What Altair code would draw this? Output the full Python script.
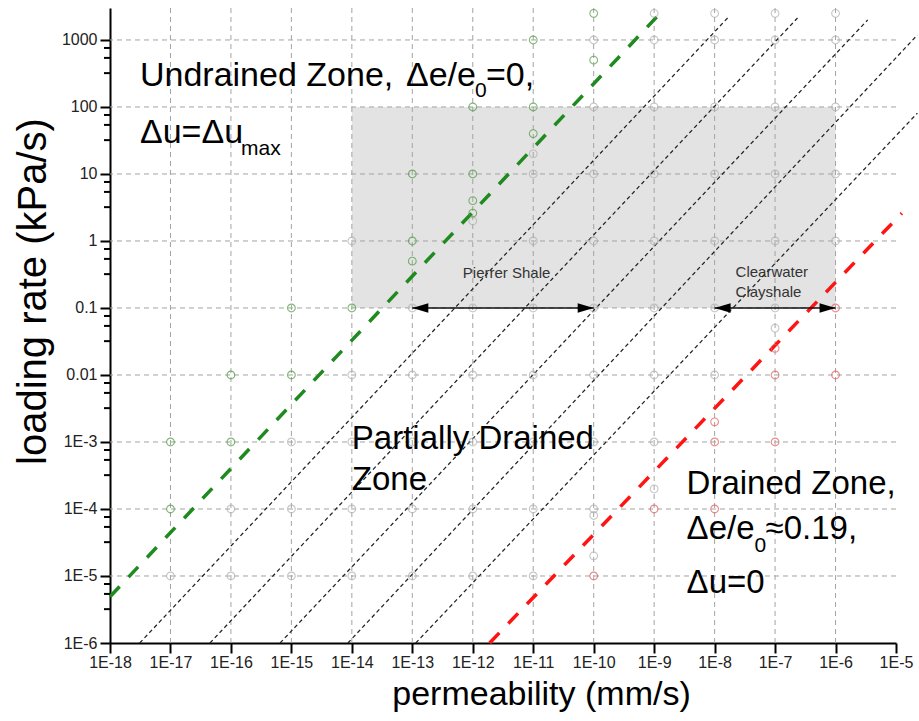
import altair as alt
import pandas as pd

FONT = "Liberation Sans"

# ---- axes -------------------------------------------------------------
x_ticks = [1e-18, 1e-17, 1e-16, 1e-15, 1e-14, 1e-13, 1e-12,
           1e-11, 1e-10, 1e-9, 1e-8, 1e-7, 1e-6, 1e-5]
x_tick_labels = ["1E-18", "1E-17", "1E-16", "1E-15", "1E-14", "1E-13", "1E-12",
                 "1E-11", "1E-10", "1E-9", "1E-8", "1E-7", "1E-6", "1E-5"]
y_ticks = [1e-6, 1e-5, 1e-4, 1e-3, 0.01, 0.1, 1, 10, 100, 1000]
y_tick_labels = ["1E-6", "1E-5", "1E-4", "1E-3", "0.01", "0.1", "1", "10", "100", "1000"]
y_minor_steps = [3.2, 5.4, 7.6]
x_grid = x_ticks[1:-1]
y_grid = y_ticks[1:]

X_DOMAIN = [1e-18, 1e-5]
Y_DOMAIN = [1e-6, 3000]

# ---- tested loading rates (permeability -> loading rates) --------------
gray_points = {
    1e-17: [1e-5],
    1e-16: [1e-4, 1e-5],
    1e-15: [1e-3, 1e-4, 1e-5],
    1e-14: [1, 0.01, 1e-3, 1e-4, 1e-5],
    1e-13: [0.1, 0.01, 1e-3, 1e-4, 1e-5],
    1e-12: [2, 0.1, 0.01, 1e-3, 1e-4, 1e-5],
    1e-11: [20, 10, 1, 0.1, 0.01, 1e-3, 1e-4, 1e-5],
    1e-10: [1000, 100, 10, 1, 0.1, 0.01, 1e-3, 1e-4, 8e-5, 2e-5],
    1e-9: [2500, 1000, 100, 10, 1, 0.1, 0.01, 1e-3, 2e-4],
    1e-8: [2500, 1000, 100, 10, 1, 0.1, 0.01],
    1e-7: [2500, 1000, 100, 10, 1, 0.1, 0.05],
    1e-6: [2500, 1000, 100, 10, 1],
}
undrained_points = {
    1e-17: [1e-3, 1e-4],
    1e-16: [0.01, 1e-3],
    1e-15: [0.1, 0.01],
    1e-14: [0.1],
    1e-13: [10, 1, 0.5],
    1e-12: [100, 10, 4, 2.6],
    1e-11: [1000, 100, 40],
    1e-10: [2500, 500],
}
drained_points = {
    1e-10: [1e-5],
    1e-9: [1e-4],
    1e-8: [2e-3, 1e-3, 1e-4],
    1e-7: [0.025, 0.01, 1e-3],
    1e-6: [0.1, 0.01],
}

# ---- boundary and guide lines (end points) ----------------------------
guide_lines = {
    "g1": ([3.1e-18, 1.64e-8], [1e-6, 2130]),
    "g2": ([4.5e-17, 2.35e-7], [1e-6, 2130]),
    "g3": ([6.5e-16, 3.4e-6], [1e-6, 1990]),
    "g4": ([8.6e-15, 2.26e-5], [1e-6, 1190]),
    "g5": ([1.14e-13, 2.26e-5], [1e-6, 81]),
}
undrained_line = ([1e-18, 1.1e-9], [4.9e-6, 2200])
drained_line = ([1.9e-12, 1.25e-5], [1e-6, 2.6])

# ---- shaded range and material arrows --------------------------------
shade_x = [1e-14, 1e-6]
shade_y = [0.1, 100]
arrow_names = ["Pierrer Shale", "Clearwater Clayshale"]
arrow_from = [1e-13, 1e-8]
arrow_to = [1e-10, 1e-6]
arrow_y = [0.1, 0.1]


def label_expr(labels, first_exp):
    arr = "[" + ",".join("'%s'" % s for s in labels) + "]"
    return "%s[round(log(datum.value)/LN10) - (%d)]" % (arr, first_exp)


x_axis = alt.Axis(
    values=x_ticks, labelExpr=label_expr(x_tick_labels, -18),
    title="permeability (mm/s)", grid=False,
    labelFont=FONT, labelFontSize=16, labelColor="#222", labelPadding=1,
    labelFlush=False, labelOverlap=False,
    tickSize=10, tickWidth=2, tickColor="#000",
    domainWidth=2, domainColor="#000",
    titleFont=FONT, titleFontSize=34, titleFontWeight="normal", titleColor="#000",
    titleX=431, titleY=61, titleBaseline="alphabetic", titleAlign="center",
)
y_axis = alt.Axis(
    values=y_ticks, labelExpr=label_expr(y_tick_labels, -6),
    title="loading rate (kPa/s)", grid=False,
    labelFont=FONT, labelFontSize=16, labelColor="#222", labelPadding=3,
    labelFlush=False, labelOverlap=False,
    tickSize=10, tickWidth=2, tickColor="#000",
    domainWidth=2, domainColor="#000",
    titleFont=FONT, titleFontSize=40, titleFontWeight="normal", titleColor="#000",
    titleX=-77, titleY=283, titleAngle=270, titleBaseline="middle", titleAlign="center",
)


def X(field):
    return alt.X(field, type="quantitative",
                 scale=alt.Scale(type="log", domain=X_DOMAIN, nice=False), axis=x_axis)


def Y(field):
    return alt.Y(field, type="quantitative",
                 scale=alt.Scale(type="log", domain=Y_DOMAIN, nice=False), axis=y_axis)


def points_frame(groups, kind):
    rows = [{"k": k, "rate": r, "kind": kind} for k, rates in groups.items() for r in rates]
    return pd.DataFrame(rows)


def line_frame(lines):
    rows = []
    for name, (xs, ys) in lines.items():
        for xv, yv in zip(xs, ys):
            rows.append({"k": xv, "rate": yv, "line": name})
    return pd.DataFrame(rows)


# shaded rectangle
shade = alt.Chart(pd.DataFrame({"x1": [shade_x[0]], "x2": [shade_x[1]],
                                "y1": [shade_y[0]], "y2": [shade_y[1]]})).mark_rect(
    color="#e3e3e3").encode(x=X("x1"), x2="x2", y=Y("y1"), y2="y2")

# dashed grid
grid_v = alt.Chart(pd.DataFrame({"g": x_grid})).mark_rule(
    color="#a3a3a3", strokeWidth=1, strokeDash=[5, 4]).encode(x=X("g"))
grid_h = alt.Chart(pd.DataFrame({"g": y_grid})).mark_rule(
    color="#a3a3a3", strokeWidth=1, strokeDash=[5, 4]).encode(y=Y("g"))

# minor ticks on the loading-rate axis
y_minor = [d * s for d in y_ticks for s in y_minor_steps if d * s <= Y_DOMAIN[1]]
minor = alt.Chart(pd.DataFrame({"m": y_minor})).mark_rule(
    color="#000", strokeWidth=2).encode(x=alt.value(0), x2=alt.value(-6), y=Y("m"))

# guide lines
guides = alt.Chart(line_frame(guide_lines)).mark_line(
    color="#222", strokeWidth=1.25, strokeDash=[4, 3]).encode(
    x=X("k"), y=Y("rate"), detail="line:N")

undrained = alt.Chart(line_frame({"u": undrained_line})).mark_line(
    color="#1f8a1f", strokeWidth=3.5, strokeDash=[14, 13]).encode(
    x=X("k"), y=Y("rate"), detail="line:N")
drained = alt.Chart(line_frame({"d": drained_line})).mark_line(
    color="#ff1414", strokeWidth=3.5, strokeDash=[14, 13]).encode(
    x=X("k"), y=Y("rate"), detail="line:N")

pts = pd.concat([points_frame(gray_points, "other"),
                 points_frame(undrained_points, "undrained"),
                 points_frame(drained_points, "drained")], ignore_index=True)
points = alt.Chart(pts).mark_point(shape="circle", filled=False, size=60, strokeWidth=1.1).encode(
    x=X("k"), y=Y("rate"),
    color=alt.Color("kind:N", legend=None,
                    scale=alt.Scale(domain=["other", "undrained", "drained"],
                                    range=["#b0b0b0", "#4c9c3c", "#e55a5a"])))

# material range arrows
arr = pd.DataFrame({"name": arrow_names, "a": arrow_from, "b": arrow_to, "y": arrow_y})
shaft = alt.Chart(arr).mark_rule(color="#111", strokeWidth=1.5).encode(
    x=X("a"), x2="b", y=Y("y"))
head_left = alt.Chart(arr).mark_point(
    shape="M0,0L2,-0.6L2,0.6Z", filled=True, size=256, color="#000", opacity=1).encode(
    x=X("a"), y=Y("y"))
head_right = alt.Chart(arr).mark_point(
    shape="M0,0L-2,-0.6L-2,0.6Z", filled=True, size=256, color="#000", opacity=1).encode(
    x=X("b"), y=Y("y"))


def note(text, x, y, size, dx=0, dy=0, color="#000"):
    df = pd.DataFrame({"x": [x], "y": [y], "t": [text]})
    return alt.Chart(df).mark_text(
        align="left", baseline="alphabetic", dx=dx, dy=dy,
        fontSize=size, font=FONT, color=color).encode(
        x=X("x"), y=Y("y"), text="t:N")


SUB = 21
notes = [
    # undrained zone
    note("Undrained Zone,", 3.13e-18, 205.7, 34),
    note("\u0394e/e", 3.13e-18, 205.7, 34, dx=266),
    note("0", 3.13e-18, 205.7, SUB, dx=335, dy=11),
    note("=0,", 3.13e-18, 205.7, 34, dx=346),
    note("\u0394u=\u0394u", 3.13e-18, 205.7, 34, dy=57),
    note("max", 3.13e-18, 205.7, SUB, dx=101, dy=69),
    # partially drained zone
    note("Partially Drained", 1e-14, 7.87e-4, 33),
    note("Zone", 1e-14, 7.87e-4, 33, dy=41),
    # drained zone
    note("Drained Zone,", 3.44e-9, 1.67e-4, 33),
    note("\u0394e/e", 3.44e-9, 1.67e-4, 33, dy=45),
    note("0", 3.44e-9, 1.67e-4, SUB, dx=68, dy=58),
    note("\u22480.19,", 3.44e-9, 1.67e-4, 33, dx=79, dy=45),
    note("\u0394u=0", 3.44e-9, 1.67e-4, 33, dy=99),
    # materials
    note("Pierrer Shale", 6.84e-13, 0.28, 15, color="#333"),
    note("Clearwater", 2.22e-8, 0.29, 15, color="#333"),
    note("Clayshale", 2.22e-8, 0.29, 15, dy=20, color="#333"),
]

chart = alt.layer(
    shade, grid_v, grid_h, minor, guides, undrained, drained, points,
    shaft, head_left, head_right, *notes
).properties(
    width=786, height=635,
    autosize=alt.AutoSizeParams(type="none"),
    padding={"left": 110, "top": 8, "right": 23, "bottom": 78},
).configure_view(stroke=None)

chart.save("out.html", embed_options={"renderer": "svg", "actions": False})
